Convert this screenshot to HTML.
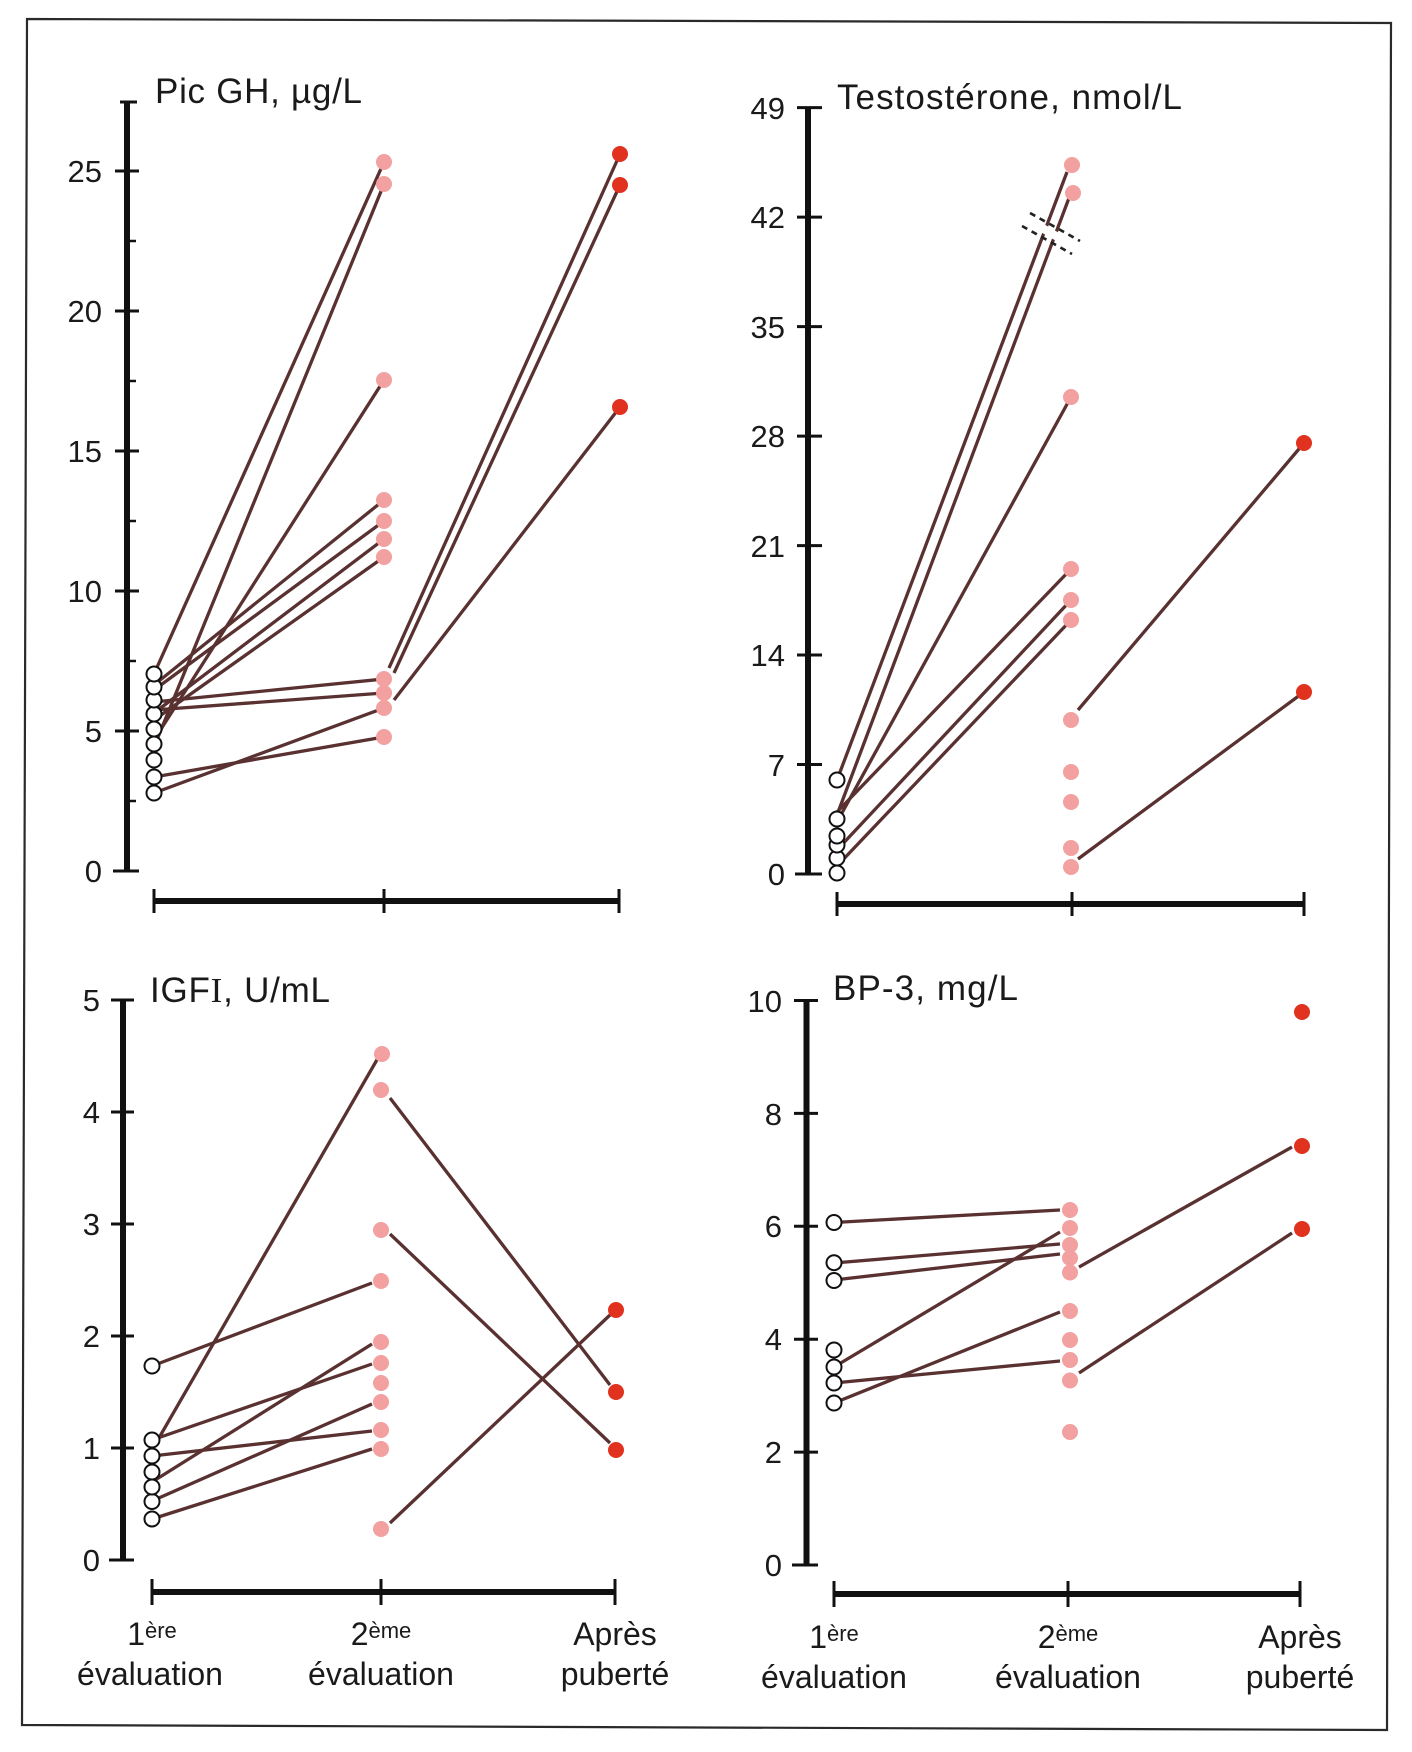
<!DOCTYPE html>
<html>
<head>
<meta charset="utf-8">
<style>
  html, body { margin:0; padding:0; background:#ffffff; }
  svg { display:block; }
  text { font-family: "Liberation Sans", "DejaVu Sans", sans-serif; fill:#1a1a1a; }
</style>
</head>
<body>
<svg width="1412" height="1752" viewBox="0 0 1412 1752" xmlns="http://www.w3.org/2000/svg">
  <rect x="0" y="0" width="1412" height="1752" fill="#ffffff"/>
  <!-- frame -->
  <polygon points="27,19 1391,23 1387,1730 22,1725" fill="none" stroke="#2a2a2a" stroke-width="2.2"/>

  <!-- ================= PANEL 1 : Pic GH ================= -->
  <g>
    <text x="155" y="103" font-size="35" textLength="207" lengthAdjust="spacing">Pic GH, µg/L</text>
    <!-- y axis -->
    <line x1="127" y1="102" x2="127" y2="871" stroke="#111" stroke-width="6"/>
    <line x1="120" y1="102" x2="137" y2="102" stroke="#111" stroke-width="3"/>
    <g stroke="#111" stroke-width="3">
      <line x1="115" y1="171" x2="139" y2="171"/>
      <line x1="115" y1="311" x2="139" y2="311"/>
      <line x1="115" y1="451" x2="139" y2="451"/>
      <line x1="115" y1="591" x2="139" y2="591"/>
      <line x1="115" y1="731" x2="139" y2="731"/>
      <line x1="113" y1="871" x2="139" y2="871"/>
    </g>
    <g stroke="#111" stroke-width="2.5">
      <line x1="124" y1="241" x2="136" y2="241"/>
      <line x1="124" y1="381" x2="136" y2="381"/>
      <line x1="124" y1="521" x2="136" y2="521"/>
      <line x1="124" y1="661" x2="136" y2="661"/>
      <line x1="124" y1="801" x2="136" y2="801"/>
    </g>
    <g font-size="31" text-anchor="end">
      <text x="102" y="182">25</text>
      <text x="102" y="322">20</text>
      <text x="102" y="462">15</text>
      <text x="102" y="602">10</text>
      <text x="102" y="742">5</text>
      <text x="102" y="882">0</text>
    </g>
    <!-- x axis -->
    <line x1="154" y1="901" x2="619" y2="901" stroke="#111" stroke-width="6"/>
    <g stroke="#111" stroke-width="3">
      <line x1="154" y1="889" x2="154" y2="913"/>
      <line x1="384" y1="889" x2="384" y2="913"/>
      <line x1="619" y1="889" x2="619" y2="913"/>
    </g>
    <!-- lines -->
    <g stroke="#5a3131" stroke-width="3.3" fill="none">
      <line x1="154" y1="674" x2="384" y2="162"/>
      <line x1="154" y1="747" x2="384" y2="184"/>
      <line x1="154" y1="740" x2="384" y2="380"/>
      <line x1="154" y1="685" x2="384" y2="500"/>
      <line x1="154" y1="690" x2="384" y2="521"/>
      <line x1="154" y1="713" x2="384" y2="539"/>
      <line x1="154" y1="720" x2="384" y2="557"/>
      <line x1="154" y1="702" x2="384" y2="679"/>
      <line x1="154" y1="710" x2="384" y2="693"/>
      <line x1="154" y1="793" x2="384" y2="708"/>
      <line x1="154" y1="777" x2="384" y2="737"/>
      <line x1="389" y1="668" x2="620" y2="154"/>
      <line x1="394" y1="673" x2="620" y2="185"/>
      <line x1="394" y1="700" x2="620" y2="407"/>
    </g>
    <!-- open circles -->
    <g fill="#ffffff" stroke="#111" stroke-width="2">
      <circle cx="154" cy="793" r="7.5"/>
      <circle cx="154" cy="777" r="7.5"/>
      <circle cx="154" cy="760" r="7.5"/>
      <circle cx="154" cy="744" r="7.5"/>
      <circle cx="154" cy="729" r="7.5"/>
      <circle cx="154" cy="714" r="7.5"/>
      <circle cx="154" cy="700" r="7.5"/>
      <circle cx="154" cy="687" r="7.5"/>
      <circle cx="154" cy="674" r="7.5"/>
    </g>
    <!-- pink -->
    <g fill="#f3a0a0">
      <circle cx="384" cy="162" r="8"/>
      <circle cx="384" cy="184" r="8"/>
      <circle cx="384" cy="380" r="8"/>
      <circle cx="384" cy="500" r="8"/>
      <circle cx="384" cy="521" r="8"/>
      <circle cx="384" cy="539" r="8"/>
      <circle cx="384" cy="557" r="8"/>
      <circle cx="384" cy="679" r="8"/>
      <circle cx="384" cy="693" r="8"/>
      <circle cx="384" cy="708" r="8"/>
      <circle cx="384" cy="737" r="8"/>
    </g>
    <g fill="#e0321f">
      <circle cx="620" cy="154" r="8"/>
      <circle cx="620" cy="185" r="8"/>
      <circle cx="620" cy="407" r="8"/>
    </g>
  </g>

  <!-- ================= PANEL 2 : Testosterone ================= -->
  <g>
    <text x="837" y="109" font-size="35" textLength="345" lengthAdjust="spacing">Testostérone, nmol/L</text>
    <line x1="808" y1="107" x2="808" y2="874" stroke="#111" stroke-width="6"/>
    <g stroke="#111" stroke-width="3">
      <line x1="797" y1="107.6" x2="822" y2="107.6"/>
      <line x1="797" y1="217.1" x2="822" y2="217.1"/>
      <line x1="797" y1="326.6" x2="822" y2="326.6"/>
      <line x1="797" y1="436.1" x2="822" y2="436.1"/>
      <line x1="797" y1="545.6" x2="822" y2="545.6"/>
      <line x1="797" y1="655" x2="822" y2="655"/>
      <line x1="797" y1="764.5" x2="822" y2="764.5"/>
      <line x1="795" y1="874" x2="822" y2="874"/>
    </g>
    <g font-size="31" text-anchor="end">
      <text x="785" y="119">49</text>
      <text x="785" y="228">42</text>
      <text x="785" y="338">35</text>
      <text x="785" y="447">28</text>
      <text x="785" y="557">21</text>
      <text x="785" y="666">14</text>
      <text x="785" y="776">7</text>
      <text x="785" y="885">0</text>
    </g>
    <line x1="837" y1="904" x2="1304" y2="904" stroke="#111" stroke-width="6"/>
    <g stroke="#111" stroke-width="3">
      <line x1="837" y1="892" x2="837" y2="916"/>
      <line x1="1072" y1="892" x2="1072" y2="916"/>
      <line x1="1304" y1="892" x2="1304" y2="916"/>
    </g>
    <g stroke="#5a3131" stroke-width="3.3" fill="none">
      <line x1="837" y1="780" x2="1067" y2="172"/>
      <line x1="837" y1="815" x2="1069" y2="198"/>
      <line x1="837" y1="822" x2="1071" y2="397"/>
      <line x1="837" y1="812" x2="1071" y2="569"/>
      <line x1="837" y1="850" x2="1071" y2="600"/>
      <line x1="837" y1="866" x2="1071" y2="620"/>
      <line x1="1078" y1="710" x2="1304" y2="443"/>
      <line x1="1078" y1="859" x2="1304" y2="692"/>
    </g>
    <!-- break mark -->
    <polygon points="1030,216 1078,244 1072,250 1025,223" fill="#ffffff"/>
    <g stroke="#222" stroke-width="2.6" stroke-dasharray="6,5" fill="none">
      <line x1="1030" y1="213" x2="1080" y2="241"/>
      <line x1="1022" y1="226" x2="1072" y2="254"/>
    </g>
    <g fill="#ffffff" stroke="#111" stroke-width="2">
      <circle cx="837" cy="873" r="7.5"/>
      <circle cx="837" cy="858" r="7.5"/>
      <circle cx="837" cy="845" r="7.5"/>
      <circle cx="837" cy="836" r="7.5"/>
      <circle cx="837" cy="819" r="7.5"/>
      <circle cx="837" cy="780" r="7.5"/>
    </g>
    <g fill="#f3a0a0">
      <circle cx="1072" cy="165" r="8"/>
      <circle cx="1073" cy="193" r="8"/>
      <circle cx="1071" cy="397" r="8"/>
      <circle cx="1071" cy="569" r="8"/>
      <circle cx="1071" cy="600" r="8"/>
      <circle cx="1071" cy="620" r="8"/>
      <circle cx="1071" cy="720" r="8"/>
      <circle cx="1071" cy="772" r="8"/>
      <circle cx="1071" cy="802" r="8"/>
      <circle cx="1071" cy="848" r="8"/>
      <circle cx="1071" cy="867" r="8"/>
    </g>
    <g fill="#e0321f">
      <circle cx="1304" cy="443" r="8"/>
      <circle cx="1304" cy="692" r="8"/>
    </g>
  </g>

  <!-- ================= PANEL 3 : IGF-I ================= -->
  <g>
    <text x="150" y="1002" font-size="35" textLength="180" lengthAdjust="spacing">IGF<tspan font-family="'Liberation Serif', serif">I</tspan>, U/mL</text>
    <line x1="123" y1="1000" x2="123" y2="1560" stroke="#111" stroke-width="6"/>
    <g stroke="#111" stroke-width="3">
      <line x1="111" y1="1000" x2="134" y2="1000"/>
      <line x1="111" y1="1112" x2="134" y2="1112"/>
      <line x1="111" y1="1224" x2="134" y2="1224"/>
      <line x1="111" y1="1336" x2="134" y2="1336"/>
      <line x1="111" y1="1448" x2="134" y2="1448"/>
      <line x1="109" y1="1560" x2="134" y2="1560"/>
    </g>
    <g font-size="31" text-anchor="end">
      <text x="100" y="1011">5</text>
      <text x="100" y="1123">4</text>
      <text x="100" y="1235">3</text>
      <text x="100" y="1347">2</text>
      <text x="100" y="1459">1</text>
      <text x="100" y="1571">0</text>
    </g>
    <line x1="152" y1="1592" x2="615" y2="1592" stroke="#111" stroke-width="6"/>
    <g stroke="#111" stroke-width="3">
      <line x1="152" y1="1579" x2="152" y2="1605"/>
      <line x1="381" y1="1579" x2="381" y2="1605"/>
      <line x1="615" y1="1579" x2="615" y2="1605"/>
    </g>
    <g stroke="#5a3131" stroke-width="3.3" fill="none">
      <line x1="152" y1="1366" x2="372" y2="1283"/>
      <line x1="152" y1="1450" x2="378" y2="1058"/>
      <line x1="152" y1="1440" x2="372" y2="1364"/>
      <line x1="152" y1="1456" x2="372" y2="1431"/>
      <line x1="152" y1="1482" x2="372" y2="1344"/>
      <line x1="152" y1="1501" x2="372" y2="1404"/>
      <line x1="152" y1="1519" x2="372" y2="1449"/>
      <line x1="390" y1="1098" x2="610" y2="1385"/>
      <line x1="390" y1="1234" x2="610" y2="1443"/>
      <line x1="390" y1="1523" x2="610" y2="1315"/>
    </g>
    <g fill="#ffffff" stroke="#111" stroke-width="2">
      <circle cx="152" cy="1519" r="7.5"/>
      <circle cx="152" cy="1501.5" r="7.5"/>
      <circle cx="152" cy="1487" r="7.5"/>
      <circle cx="152" cy="1472" r="7.5"/>
      <circle cx="152" cy="1456" r="7.5"/>
      <circle cx="152" cy="1440" r="7.5"/>
      <circle cx="152" cy="1366" r="7.5"/>
    </g>
    <g fill="#f3a0a0">
      <circle cx="382" cy="1054" r="8"/>
      <circle cx="381" cy="1090" r="8"/>
      <circle cx="381" cy="1230" r="8"/>
      <circle cx="381" cy="1281" r="8"/>
      <circle cx="381" cy="1342" r="8"/>
      <circle cx="381" cy="1363" r="8"/>
      <circle cx="381" cy="1383" r="8"/>
      <circle cx="381" cy="1402" r="8"/>
      <circle cx="381" cy="1430" r="8"/>
      <circle cx="381" cy="1449" r="8"/>
      <circle cx="381" cy="1529" r="8"/>
    </g>
    <g fill="#e0321f">
      <circle cx="616" cy="1310" r="8"/>
      <circle cx="616" cy="1392" r="8"/>
      <circle cx="616" cy="1450" r="8"/>
    </g>
    <g font-size="32" text-anchor="middle">
      <text x="152" y="1645">1<tspan font-size="22" dy="-7">ère</tspan></text>
      <text x="150" y="1685">évaluation</text>
      <text x="381" y="1645">2<tspan font-size="22" dy="-7">ème</tspan></text>
      <text x="381" y="1685">évaluation</text>
      <text x="615" y="1645">Après</text>
      <text x="615" y="1685">puberté</text>
    </g>
  </g>

  <!-- ================= PANEL 4 : BP-3 ================= -->
  <g>
    <text x="833" y="1000" font-size="35" textLength="185" lengthAdjust="spacing">BP-3, mg/L</text>
    <line x1="806.5" y1="1000" x2="806.5" y2="1565" stroke="#111" stroke-width="6"/>
    <g stroke="#111" stroke-width="3">
      <line x1="794" y1="1000.5" x2="818" y2="1000.5"/>
      <line x1="794" y1="1113.4" x2="818" y2="1113.4"/>
      <line x1="794" y1="1226.3" x2="818" y2="1226.3"/>
      <line x1="794" y1="1339.2" x2="818" y2="1339.2"/>
      <line x1="794" y1="1452.1" x2="818" y2="1452.1"/>
      <line x1="792" y1="1565" x2="818" y2="1565"/>
    </g>
    <g font-size="31" text-anchor="end">
      <text x="782" y="1012">10</text>
      <text x="782" y="1125">8</text>
      <text x="782" y="1237">6</text>
      <text x="782" y="1350">4</text>
      <text x="782" y="1463">2</text>
      <text x="782" y="1576">0</text>
    </g>
    <line x1="834" y1="1594" x2="1300" y2="1594" stroke="#111" stroke-width="6"/>
    <g stroke="#111" stroke-width="3">
      <line x1="834" y1="1581" x2="834" y2="1607"/>
      <line x1="1068" y1="1581" x2="1068" y2="1607"/>
      <line x1="1300" y1="1581" x2="1300" y2="1607"/>
    </g>
    <g stroke="#5a3131" stroke-width="3.3" fill="none">
      <line x1="834" y1="1222.5" x2="1060" y2="1210"/>
      <line x1="834" y1="1263" x2="1060" y2="1244"/>
      <line x1="834" y1="1280" x2="1060" y2="1254"/>
      <line x1="834" y1="1367" x2="1060" y2="1232"/>
      <line x1="834" y1="1403" x2="1060" y2="1312"/>
      <line x1="834" y1="1383" x2="1060" y2="1361"/>
      <line x1="1079" y1="1267" x2="1292" y2="1147"/>
      <line x1="1079" y1="1373" x2="1292" y2="1233"/>
    </g>
    <g fill="#ffffff" stroke="#111" stroke-width="2">
      <circle cx="834" cy="1403" r="7.5"/>
      <circle cx="834" cy="1383" r="7.5"/>
      <circle cx="834" cy="1367" r="7.5"/>
      <circle cx="834" cy="1350" r="7.5"/>
      <circle cx="834" cy="1280.5" r="7.5"/>
      <circle cx="834" cy="1262.7" r="7.5"/>
      <circle cx="834" cy="1222.5" r="7.5"/>
    </g>
    <g fill="#f3a0a0">
      <circle cx="1070" cy="1210" r="8"/>
      <circle cx="1070" cy="1228" r="8"/>
      <circle cx="1070" cy="1245" r="8"/>
      <circle cx="1070" cy="1258" r="8"/>
      <circle cx="1070" cy="1272.5" r="8"/>
      <circle cx="1070" cy="1311" r="8"/>
      <circle cx="1070" cy="1340" r="8"/>
      <circle cx="1070" cy="1360" r="8"/>
      <circle cx="1070" cy="1380.5" r="8"/>
      <circle cx="1070" cy="1432" r="8"/>
    </g>
    <g fill="#e0321f">
      <circle cx="1302" cy="1012" r="8"/>
      <circle cx="1302" cy="1146" r="8"/>
      <circle cx="1302" cy="1229" r="8"/>
    </g>
    <g font-size="32" text-anchor="middle">
      <text x="834" y="1648">1<tspan font-size="22" dy="-7">ère</tspan></text>
      <text x="834" y="1688">évaluation</text>
      <text x="1068" y="1648">2<tspan font-size="22" dy="-7">ème</tspan></text>
      <text x="1068" y="1688">évaluation</text>
      <text x="1300" y="1648">Après</text>
      <text x="1300" y="1688">puberté</text>
    </g>
  </g>
</svg>
</body>
</html>
